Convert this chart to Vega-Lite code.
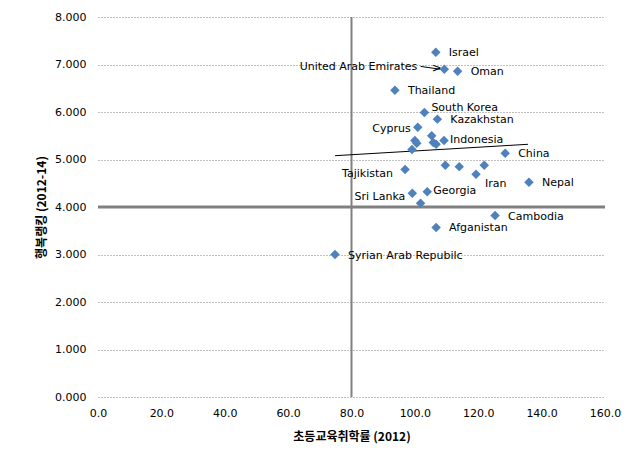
{
  "$schema": "https://vega.github.io/schema/vega-lite/v6.json",
  "width": 507,
  "height": 380,
  "autosize": "none",
  "padding": {"left": 98, "top": 17, "right": 35, "bottom": 71},
  "background": "white",
  "config": {
    "view": {"stroke": null},
    "font": "DejaVu Sans",
    "text": {"font": "DejaVu Sans", "fontSize": 11, "color": "#000000"}
  },
  "datasets": {
    "pts": [
      {"country": "Israel", "x": 106.6, "y": 7.26},
      {"country": "United Arab Emirates", "x": 109.3, "y": 6.9},
      {"country": "Oman", "x": 113.5, "y": 6.86},
      {"country": "Thailand", "x": 93.7, "y": 6.46},
      {"country": "South Korea", "x": 103.0, "y": 5.99},
      {"country": "Kazakhstan", "x": 107.1, "y": 5.85},
      {"country": "Cyprus", "x": 100.9, "y": 5.68},
      {"country": "", "x": 105.3, "y": 5.5},
      {"country": "", "x": 100.0, "y": 5.4},
      {"country": "", "x": 100.6, "y": 5.34},
      {"country": "", "x": 99.1, "y": 5.21},
      {"country": "", "x": 105.8, "y": 5.36},
      {"country": "", "x": 106.7, "y": 5.32},
      {"country": "Indonesia", "x": 109.2, "y": 5.4},
      {"country": "China", "x": 128.5, "y": 5.13},
      {"country": "Tajikistan", "x": 96.9, "y": 4.79},
      {"country": "", "x": 109.6, "y": 4.88},
      {"country": "", "x": 114.0, "y": 4.85},
      {"country": "", "x": 121.9, "y": 4.88},
      {"country": "Iran", "x": 119.3, "y": 4.69},
      {"country": "Nepal", "x": 136.0, "y": 4.52},
      {"country": "Sri Lanka", "x": 99.2, "y": 4.29},
      {"country": "Georgia", "x": 103.9, "y": 4.32},
      {"country": "", "x": 101.8, "y": 4.08},
      {"country": "Cambodia", "x": 125.3, "y": 3.82},
      {"country": "Afganistan", "x": 106.7, "y": 3.57},
      {"country": "Syrian Arab Repubilc", "x": 74.8, "y": 3.0}
    ]
  },
  "encoding": {
    "x": {"field": "x", "type": "quantitative", "title": "초등교육취학률 (2012)",
      "scale": {"domain": [0, 160], "nice": false, "zero": false},
      "axis": {"values": [0, 20, 40, 60, 80, 100, 120, 140, 160], "format": ".1f", "grid": false, "domain": false, "ticks": false,
        "labelFlush": false, "labelPadding": 10, "labelFont": "DejaVu Sans", "labelFontSize": 11, "labelColor": "#000000",
        "titleFont": "Noto Sans CJK KR", "titleFontSize": 12, "titleFontWeight": "bold", "titleColor": "#000000", "titlePadding": 13}},
    "y": {"field": "y", "type": "quantitative", "title": "행복랭킹 (2012-14)",
      "scale": {"domain": [0, 8], "nice": false, "zero": false},
      "axis": {"values": [0, 1, 2, 3, 4, 5, 6, 7, 8], "format": ".3f", "grid": true, "gridDash": [1, 2], "gridColor": "#808080", "domain": false, "ticks": false,
        "labelFlush": false, "labelPadding": 12, "labelFont": "DejaVu Sans", "labelFontSize": 11, "labelColor": "#000000",
        "titleFont": "Noto Sans CJK KR", "titleFontSize": 12, "titleFontWeight": "bold", "titleColor": "#000000", "titlePadding": 6}}
  },
  "layer": [
    {
      "data": {"values": [{"x": 80, "y": 0, "y2": 8}]},
      "mark": {"type": "rule", "color": "#808080", "strokeWidth": 2},
      "encoding": {"y2": {"field": "y2"}}
    },
    {
      "data": {"values": [{"x": 0, "x2": 160, "y": 4}]},
      "mark": {"type": "rule", "color": "#808080", "strokeWidth": 3},
      "encoding": {"x2": {"field": "x2"}}
    },
    {
      "data": {"values": [{"x": 74.8, "y": 5.08}, {"x": 135.7, "y": 5.32}]},
      "mark": {"type": "line", "color": "#000000", "strokeWidth": 1},
      "encoding": {}
    },
    {
      "data": {"values": [{"x": 101.8, "y": 6.96, "x2": 108.0, "y2": 6.9}]},
      "mark": {"type": "rule", "color": "#000000", "strokeWidth": 1},
      "encoding": {"x2": {"field": "x2"}, "y2": {"field": "y2"}}
    },
    {
      "data": {"values": [{"x": 107.9, "y": 6.9}]},
      "mark": {"type": "text", "text": ">", "fontSize": 12, "align": "right", "baseline": "middle", "dx": 2, "dy": -1},
      "encoding": {}
    },
    {
      "data": {"name": "pts"},
      "mark": {"type": "point", "shape": "diamond", "filled": true, "color": "#4F81BD", "size": 90, "opacity": 1},
      "encoding": {}
    },
    {
      "data": {"name": "pts"},
      "transform": [{"filter": "indexof(['Israel','Oman','Thailand','Kazakhstan','China','Nepal','Cambodia','Afganistan','Syrian Arab Repubilc'], datum.country) >= 0"}],
      "mark": {"type": "text", "align": "left", "baseline": "middle", "dx": 13, "dy": 1},
      "encoding": {"text": {"field": "country"}}
    },
    {
      "data": {"name": "pts"},
      "transform": [{"filter": "datum.country == 'United Arab Emirates'"}],
      "mark": {"type": "text", "align": "right", "baseline": "middle", "dx": -27, "dy": -2},
      "encoding": {"text": {"field": "country"}}
    },
    {
      "data": {"name": "pts"},
      "transform": [{"filter": "datum.country == 'South Korea'"}],
      "mark": {"type": "text", "align": "left", "baseline": "middle", "dx": 7, "dy": -4},
      "encoding": {"text": {"field": "country"}}
    },
    {
      "data": {"name": "pts"},
      "transform": [{"filter": "datum.country == 'Cyprus'"}],
      "mark": {"type": "text", "align": "right", "baseline": "middle", "dx": -7, "dy": 2},
      "encoding": {"text": {"field": "country"}}
    },
    {
      "data": {"name": "pts"},
      "transform": [{"filter": "datum.country == 'Indonesia' || datum.country == 'Georgia'"}],
      "mark": {"type": "text", "align": "left", "baseline": "middle", "dx": 6, "dy": -1},
      "encoding": {"text": {"field": "country"}}
    },
    {
      "data": {"name": "pts"},
      "transform": [{"filter": "datum.country == 'Tajikistan'"}],
      "mark": {"type": "text", "align": "right", "baseline": "middle", "dx": -12, "dy": 5},
      "encoding": {"text": {"field": "country"}}
    },
    {
      "data": {"name": "pts"},
      "transform": [{"filter": "datum.country == 'Sri Lanka'"}],
      "mark": {"type": "text", "align": "right", "baseline": "middle", "dx": -7, "dy": 4},
      "encoding": {"text": {"field": "country"}}
    },
    {
      "data": {"name": "pts"},
      "transform": [{"filter": "datum.country == 'Iran'"}],
      "mark": {"type": "text", "align": "left", "baseline": "middle", "dx": 9, "dy": 10},
      "encoding": {"text": {"field": "country"}}
    }
  ]
}
